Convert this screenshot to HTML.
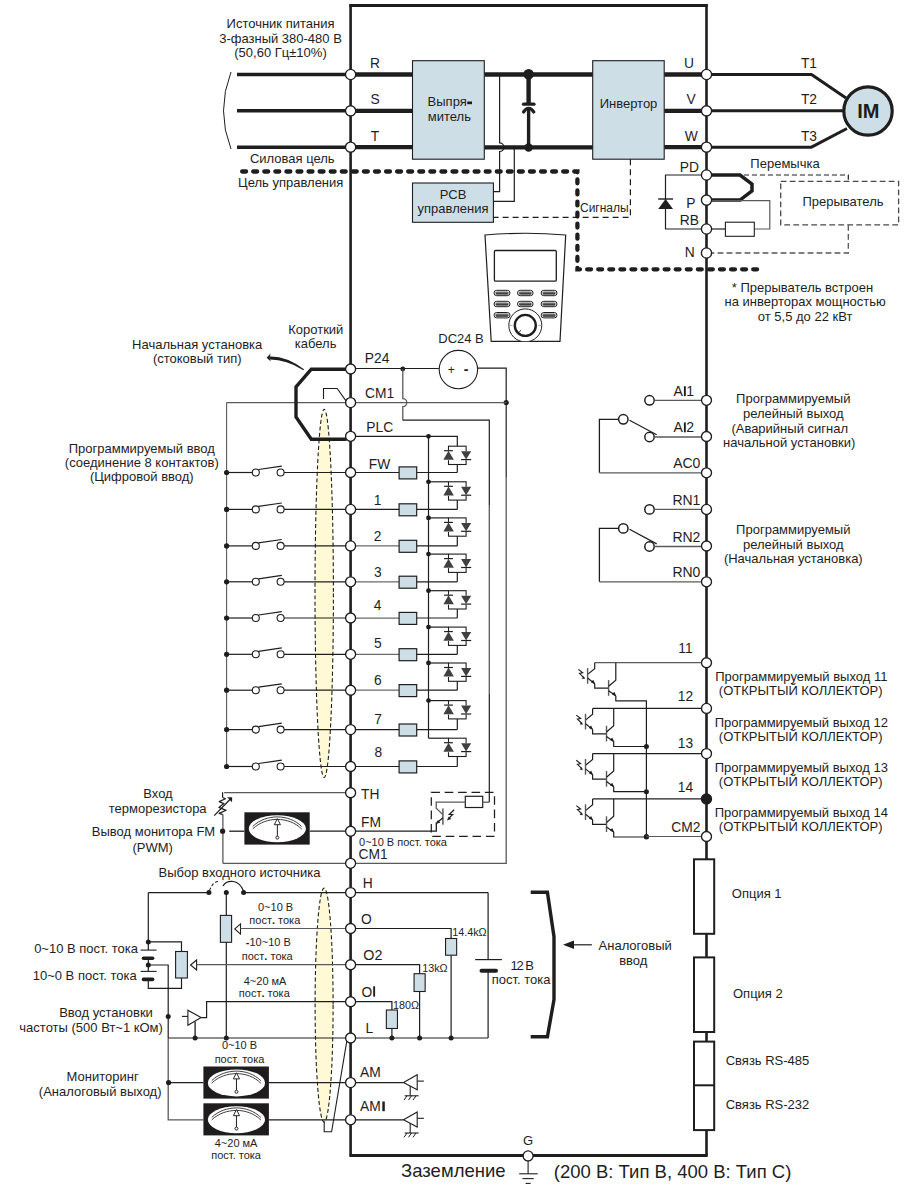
<!DOCTYPE html><html><head><meta charset="utf-8"><style>html,body{margin:0;padding:0;background:#fff;}svg{display:block;} text{font-family:"Liberation Sans",sans-serif;fill:#1e1e1e;}</style></head><body><svg width="918" height="1194" viewBox="0 0 918 1194"><rect width="918" height="1194" fill="#fff"/><ellipse cx="324.2" cy="593.4" rx="9.2" ry="184.2" fill="#fffad5" stroke="#1e1e1e" stroke-width="1.1" stroke-dasharray="4,2.5"/>
<ellipse cx="324.1" cy="1005.1" rx="9" ry="117" fill="#fffad5" stroke="#1e1e1e" stroke-width="1.1" stroke-dasharray="4,2.5"/>
<polyline points="350.6,1155.5 350.6,5.45 706.5,5.45 706.5,1155.5" fill="none" stroke="#1e1e1e" stroke-width="2.6" />
<line x1="349.35" y1="5.45" x2="707.75" y2="5.45" stroke="#1e1e1e" stroke-width="2.9" />
<line x1="349.40000000000003" y1="1155.5" x2="707.7" y2="1155.5" stroke="#1e1e1e" stroke-width="2.8" />
<line x1="237" y1="74.5" x2="350.6" y2="74.5" stroke="#1e1e1e" stroke-width="3.4" />
<line x1="350.6" y1="74.5" x2="412.5" y2="74.5" stroke="#1e1e1e" stroke-width="4.3" />
<line x1="237" y1="110.8" x2="350.6" y2="110.8" stroke="#1e1e1e" stroke-width="3.4" />
<line x1="350.6" y1="110.8" x2="412.5" y2="110.8" stroke="#1e1e1e" stroke-width="4.3" />
<line x1="237" y1="147.2" x2="350.6" y2="147.2" stroke="#1e1e1e" stroke-width="3.4" />
<line x1="350.6" y1="147.2" x2="412.5" y2="147.2" stroke="#1e1e1e" stroke-width="4.3" />
<line x1="484.4" y1="74.5" x2="592.7" y2="74.5" stroke="#1e1e1e" stroke-width="4.4" />
<line x1="484.4" y1="147.4" x2="592.7" y2="147.4" stroke="#1e1e1e" stroke-width="4.4" />
<line x1="664.2" y1="74.5" x2="706.5" y2="74.5" stroke="#1e1e1e" stroke-width="4.3" />
<line x1="706.5" y1="74.5" x2="812" y2="74.5" stroke="#1e1e1e" stroke-width="3" />
<line x1="664.2" y1="110.8" x2="706.5" y2="110.8" stroke="#1e1e1e" stroke-width="4.3" />
<line x1="706.5" y1="110.8" x2="812" y2="110.8" stroke="#1e1e1e" stroke-width="3" />
<line x1="664.2" y1="147.2" x2="706.5" y2="147.2" stroke="#1e1e1e" stroke-width="4.3" />
<line x1="706.5" y1="147.2" x2="812" y2="147.2" stroke="#1e1e1e" stroke-width="3" />
<line x1="811.5" y1="74.5" x2="846" y2="98" stroke="#1e1e1e" stroke-width="3" />
<line x1="811.5" y1="147.2" x2="847" y2="128.5" stroke="#1e1e1e" stroke-width="3" />
<line x1="812" y1="110.8" x2="845" y2="110.8" stroke="#1e1e1e" stroke-width="3" />
<circle cx="868" cy="111" r="24.2" fill="#cedee6" stroke="#1e1e1e" stroke-width="3.2"/>
<text x="868.4" y="118" font-size="20" text-anchor="middle" font-weight="bold">IM</text>
<rect x="412.5" y="60.7" width="71.8" height="98.5" fill="#cedee6" stroke="#1e1e1e" stroke-width="1.1" />
<rect x="592.7" y="60.7" width="71.5" height="98.5" fill="#cedee6" stroke="#1e1e1e" stroke-width="1.1" />
<text x="427.6" y="105.8" font-size="13" text-anchor="start" >Выпря</text>
<rect x="467.2" y="101.5" width="4.8" height="2.7" fill="#1e1e1e"/>
<text x="427.8" y="120.6" font-size="13" text-anchor="start" >митель</text>
<text x="628.5" y="107.5" font-size="13" text-anchor="middle" >Инвертор</text>
<circle cx="528.6" cy="74.2" r="5.3" fill="#1e1e1e"/>
<circle cx="528.6" cy="147.5" r="4.2" fill="#1e1e1e"/>
<line x1="528.6" y1="74" x2="528.6" y2="103.5" stroke="#1e1e1e" stroke-width="4.4" />
<line x1="528.6" y1="108.5" x2="528.6" y2="147.5" stroke="#1e1e1e" stroke-width="3.4" />
<path d="M523.5,104.2 L534,104.2" fill="none" stroke="#1e1e1e" stroke-width="3.2" stroke-linecap="round"/>
<path d="M523.5,112 Q528.6,104.5 533.8,112" fill="none" stroke="#1e1e1e" stroke-width="3.2" stroke-linecap="round"/>
<path d="M499.6,74.5 L499.6,142.9 A4.3,4.3 0 0 1 499.6,151.5 L499.6,191.6 L493.4,191.6" fill="none" stroke="#1e1e1e" stroke-width="1.2" />
<polyline points="514.3,147.4 514.3,201.4 493.4,201.4" fill="none" stroke="#1e1e1e" stroke-width="1.2" />
<rect x="412.5" y="183" width="80.9" height="39.3" fill="#cedee6" stroke="#1e1e1e" stroke-width="1.1" />
<text x="453" y="199" font-size="13" text-anchor="middle" >PCB</text>
<text x="453" y="213" font-size="13" text-anchor="middle" >управления</text>
<polyline points="630.4,159.2 630.4,217.4 493.4,217.4" fill="none" stroke="#1e1e1e" stroke-width="1.2" stroke-dasharray="6,4"/>
<text x="580" y="212" font-size="12" text-anchor="start" >Сигналы</text>
<polyline points="242.15,171.5 577.4,171.5 577.4,269.3 758.5,269.3" fill="none" stroke="#1e1e1e" stroke-width="4.3" stroke-dasharray="3.9,7.17" stroke-linecap="round"/>
<text x="375" y="68" font-size="13.8" text-anchor="middle" >R</text>
<text x="375" y="104" font-size="13.8" text-anchor="middle" >S</text>
<text x="375" y="140.5" font-size="13.8" text-anchor="middle" >T</text>
<text x="689" y="68" font-size="13.8" text-anchor="middle" >U</text>
<text x="691" y="104" font-size="13.8" text-anchor="middle" >V</text>
<text x="691.3" y="140.5" font-size="13.8" text-anchor="middle" >W</text>
<text x="809" y="68" font-size="13.8" text-anchor="middle" >T1</text>
<text x="809" y="104" font-size="13.8" text-anchor="middle" >T2</text>
<text x="809" y="140.5" font-size="13.8" text-anchor="middle" >T3</text>
<path d="M231,72 Q216,111 231,149" fill="none" stroke="#1e1e1e" stroke-width="1" />
<text x="280.5" y="28" font-size="13" text-anchor="middle" >Источник питания</text>
<text x="280.5" y="42.5" font-size="13" text-anchor="middle" >3-фазный 380-480 В</text>
<text x="280.5" y="57" font-size="13" text-anchor="middle" >(50,60 Гц±10%)</text>
<text x="292.3" y="163.4" font-size="13" text-anchor="middle" >Силовая цель</text>
<text x="290.7" y="186.6" font-size="13" text-anchor="middle" >Цель управления</text>
<polyline points="706.5,175 665.5,175 665.5,229 706.5,229" fill="none" stroke="#1e1e1e" stroke-width="1.2" />
<path d="M658.2,209 L673,209 L665.6,199 Z" fill="#1e1e1e"/>
<line x1="658.2" y1="199" x2="673" y2="199" stroke="#1e1e1e" stroke-width="1.4" />
<polyline points="706.5,175 740,175 752,184 752,190.8 740,200.1 706.5,200.1" fill="none" stroke="#1e1e1e" stroke-width="3.5" />
<polyline points="706.5,200.6 769.8,200.6 769.8,229 754.3,229" fill="none" stroke="#5a5a5a" stroke-width="1.2" />
<rect x="725.4" y="222.2" width="28.9" height="14.1" fill="#fff" stroke="#1e1e1e" stroke-width="1.1" />
<line x1="706.5" y1="229" x2="725.4" y2="229" stroke="#1e1e1e" stroke-width="1.2" />
<polyline points="744,175 848.3,175 848.3,181.3" fill="none" stroke="#1e1e1e" stroke-width="1.2" stroke-dasharray="5,3"/>
<rect x="780.7" y="181.3" width="117.9" height="43.6" fill="none" stroke="#4a4a4a" stroke-width="1.3" stroke-dasharray="5.8,3.2"/>
<polyline points="848.3,224.9 848.3,253 711.5,253" fill="none" stroke="#555" stroke-width="1.3" stroke-dasharray="5.8,3.2"/>
<text x="843" y="206.4" font-size="13" text-anchor="middle" >Прерыватель</text>
<text x="785" y="167.7" font-size="13" text-anchor="middle" >Перемычка</text>
<text x="699" y="172" font-size="13.8" text-anchor="end" >PD</text>
<text x="695.5" y="208" font-size="13.8" text-anchor="end" >P</text>
<text x="699" y="225" font-size="13.8" text-anchor="end" >RB</text>
<text x="694.6" y="257" font-size="13.8" text-anchor="end" >N</text>
<text x="802.5" y="291.8" font-size="13" text-anchor="middle" >* Прерыватель встроен</text>
<text x="805.2" y="306" font-size="13" text-anchor="middle" >на инверторах мощностью</text>
<text x="805.1" y="320.5" font-size="13" text-anchor="middle" >от 5,5 до 22 кВт</text>
<path d="M485,235 Q525.3,231.5 565.7,235 L560,341.3 L491.2,341.3 Z" fill="#fff" stroke="#1e1e1e" stroke-width="1.2" />
<rect x="494.4" y="250.5" width="61.9" height="30.7" fill="#fff" stroke="#1e1e1e" stroke-width="1.3" rx="1.2"/>
<rect x="494" y="290.3" width="16" height="5.4" fill="#fff" stroke="#1e1e1e" stroke-width="1" rx="2.7"/>
<rect x="495.3" y="291.4" width="13.4" height="3.1" fill="#6b6b6b" stroke="#1e1e1e" stroke-width="0" rx="1.5"/>
<line x1="496" y1="293.9" x2="508" y2="293.9" stroke="#1e1e1e" stroke-width="0.9" />
<rect x="517.5" y="290.3" width="15.600000000000023" height="5.4" fill="#fff" stroke="#1e1e1e" stroke-width="1" rx="2.7"/>
<rect x="518.8" y="291.4" width="13.000000000000023" height="3.1" fill="#6b6b6b" stroke="#1e1e1e" stroke-width="0" rx="1.5"/>
<line x1="519.5" y1="293.9" x2="531.1" y2="293.9" stroke="#1e1e1e" stroke-width="0.9" />
<rect x="541.1" y="290.3" width="15.899999999999977" height="5.4" fill="#fff" stroke="#1e1e1e" stroke-width="1" rx="2.7"/>
<rect x="542.4" y="291.4" width="13.299999999999978" height="3.1" fill="#6b6b6b" stroke="#1e1e1e" stroke-width="0" rx="1.5"/>
<line x1="543.1" y1="293.9" x2="555" y2="293.9" stroke="#1e1e1e" stroke-width="0.9" />
<rect x="494" y="301.3" width="16" height="5.4" fill="#fff" stroke="#1e1e1e" stroke-width="1" rx="2.7"/>
<rect x="495.3" y="302.4" width="13.4" height="3.1" fill="#6b6b6b" stroke="#1e1e1e" stroke-width="0" rx="1.5"/>
<line x1="496" y1="304.9" x2="508" y2="304.9" stroke="#1e1e1e" stroke-width="0.9" />
<rect x="517.5" y="301.3" width="15.600000000000023" height="5.4" fill="#fff" stroke="#1e1e1e" stroke-width="1" rx="2.7"/>
<rect x="518.8" y="302.4" width="13.000000000000023" height="3.1" fill="#6b6b6b" stroke="#1e1e1e" stroke-width="0" rx="1.5"/>
<line x1="519.5" y1="304.9" x2="531.1" y2="304.9" stroke="#1e1e1e" stroke-width="0.9" />
<rect x="541.1" y="301.3" width="15.899999999999977" height="5.4" fill="#fff" stroke="#1e1e1e" stroke-width="1" rx="2.7"/>
<rect x="542.4" y="302.4" width="13.299999999999978" height="3.1" fill="#6b6b6b" stroke="#1e1e1e" stroke-width="0" rx="1.5"/>
<line x1="543.1" y1="304.9" x2="555" y2="304.9" stroke="#1e1e1e" stroke-width="0.9" />
<rect x="494" y="312.5" width="16" height="5.4" fill="#fff" stroke="#1e1e1e" stroke-width="1" rx="2.7"/>
<rect x="495.3" y="313.59999999999997" width="13.4" height="3.1" fill="#6b6b6b" stroke="#1e1e1e" stroke-width="0" rx="1.5"/>
<line x1="496" y1="316.09999999999997" x2="508" y2="316.09999999999997" stroke="#1e1e1e" stroke-width="0.9" />
<rect x="541.1" y="312.5" width="15.899999999999977" height="5.4" fill="#fff" stroke="#1e1e1e" stroke-width="1" rx="2.7"/>
<rect x="542.4" y="313.59999999999997" width="13.299999999999978" height="3.1" fill="#6b6b6b" stroke="#1e1e1e" stroke-width="0" rx="1.5"/>
<line x1="543.1" y1="316.09999999999997" x2="555" y2="316.09999999999997" stroke="#1e1e1e" stroke-width="0.9" />
<clipPath id="kp"><rect x="480" y="230" width="90" height="111.3"/></clipPath>
<g clip-path="url(#kp)"><circle cx="525.3" cy="325.4" r="16.5" fill="#fff" stroke="#1e1e1e" stroke-width="1"/><circle cx="525.3" cy="325.4" r="10.5" fill="none" stroke="#1e1e1e" stroke-width="2.4"/></g>
<line x1="508.8" y1="325.4" x2="512.6" y2="325.4" stroke="#999" stroke-width="0.8" />
<line x1="538" y1="325.4" x2="541.8" y2="325.4" stroke="#999" stroke-width="0.8" />
<line x1="519.2" y1="332" x2="521" y2="330.3" stroke="#1e1e1e" stroke-width="1" />
<text x="438.3" y="343.4" font-size="13" text-anchor="start" textLength="45.4" lengthAdjust="spacing">DC24 В</text>
<line x1="350.6" y1="368.5" x2="438.8" y2="368.5" stroke="#1e1e1e" stroke-width="1.2" />
<circle cx="402.8" cy="369" r="2.4" fill="#1e1e1e"/>
<circle cx="458.4" cy="369.6" r="19.2" fill="#fff" stroke="#1e1e1e" stroke-width="1.1"/>
<text x="451.3" y="373.5" font-size="12" text-anchor="middle" >+</text>
<text x="466" y="374" font-size="14" text-anchor="middle" font-weight="bold">-</text>
<polyline points="477.6,368.2 506.2,368.2 506.2,477" fill="none" stroke="#1e1e1e" stroke-width="1.2" />
<polyline points="506.2,477 506.2,863.3 350.6,863.3" fill="none" stroke="#5a5a5a" stroke-width="1.3" />
<circle cx="506.2" cy="402.6" r="2.6" fill="#1e1e1e"/>
<path d="M402.8,369 L402.8,398.6 A4,4 0 0 1 402.8,406.6 L402.8,420.2" fill="none" stroke="#5a5a5a" stroke-width="1.3" />
<polyline points="402.8,420.2 489.3,420.2 489.3,505" fill="none" stroke="#1e1e1e" stroke-width="1.2" />
<line x1="489.3" y1="505" x2="489.3" y2="694" stroke="#5a5a5a" stroke-width="1.3" />
<line x1="489.3" y1="694" x2="489.3" y2="802.2" stroke="#1e1e1e" stroke-width="1.2" />
<line x1="226.6" y1="402.6" x2="506.2" y2="402.6" stroke="#5a5a5a" stroke-width="1.2" />
<polyline points="323.5,398.9 323.5,388.5 337.2,388.5 346,400.9" fill="none" stroke="#1e1e1e" stroke-width="1.1" />
<polyline points="350.6,436.3 457.3,436.3 457.3,446.2" fill="none" stroke="#1e1e1e" stroke-width="1.2" />
<circle cx="428.5" cy="436.3" r="2.4" fill="#1e1e1e"/>
<line x1="428.5" y1="436.3" x2="428.5" y2="738.2" stroke="#1e1e1e" stroke-width="1.2" />
<polyline points="346.6,369.2 311.3,369.2 296,387 296,417 311.3,439.2 346.6,439.2" fill="none" stroke="#1e1e1e" stroke-width="3.4" stroke-linejoin="miter"/>
<path d="M304,369.2 Q286,355.8 269.5,356.5 L269.5,359.6 Q286,359.4 303.4,370.2 Z" fill="#1e1e1e"/>
<path d="M266.6,357.8 L270.6,353.6 L269.6,357.9 L270.9,361.6 Z" fill="#1e1e1e"/>
<text x="197.2" y="349" font-size="13" text-anchor="middle" >Начальная установка</text>
<text x="197.2" y="363.4" font-size="13" text-anchor="middle" >(стоковый тип)</text>
<text x="315.8" y="334.1" font-size="13" text-anchor="middle" >Короткий</text>
<text x="315.6" y="347.7" font-size="13" text-anchor="middle" >кабель</text>
<text x="364.8" y="363.2" font-size="13.8" text-anchor="start" >P24</text>
<text x="365" y="397.6" font-size="13.8" text-anchor="start" >CM1</text>
<text x="366.3" y="431.6" font-size="13.8" text-anchor="start" >PLC</text>
<line x1="226.6" y1="402.6" x2="226.6" y2="766.5" stroke="#5a5a5a" stroke-width="1.1" />
<circle cx="226.6" cy="472.5" r="2.6" fill="#1e1e1e"/>
<line x1="226.6" y1="472.5" x2="252.3" y2="472.5" stroke="#1e1e1e" stroke-width="1.2" />
<circle cx="255.8" cy="472.5" r="3.5" fill="#fff" stroke="#1e1e1e" stroke-width="1.1"/>
<line x1="258.5" y1="469.5" x2="281.8" y2="466.1" stroke="#1e1e1e" stroke-width="1.2" />
<circle cx="280.6" cy="472.5" r="3.5" fill="#fff" stroke="#1e1e1e" stroke-width="1.1"/>
<line x1="284.1" y1="472.5" x2="350.6" y2="472.5" stroke="#1e1e1e" stroke-width="1.2" />
<line x1="350.6" y1="472.5" x2="457.3" y2="472.5" stroke="#1e1e1e" stroke-width="1.2" />
<rect x="399.1" y="466.9" width="17.6" height="12" fill="#cedee6" stroke="#1e1e1e" stroke-width="1.2" />
<polyline points="457.3,472.5 457.3,464.5" fill="none" stroke="#1e1e1e" stroke-width="1.2" />
<rect x="448.5" y="446.2" width="17.6" height="18.30000000000001" fill="none" stroke="#1e1e1e" stroke-width="1.1"/>
<rect x="443" y="450.2" width="11" height="10" fill="#fff" stroke="none"/>
<path d="M443.4,459.8 L453.9,459.8 L448.5,450.8 Z" fill="#404040"/>
<line x1="444.1" y1="450.7" x2="452.9" y2="450.7" stroke="#1e1e1e" stroke-width="1.2" />
<rect x="460.5" y="451.2" width="11" height="9" fill="#fff" stroke="none"/>
<path d="M461.1,451.2 L471.2,451.2 L466.1,459.59999999999997 Z" fill="#404040"/>
<line x1="461.1" y1="459.59999999999997" x2="471.2" y2="459.59999999999997" stroke="#1e1e1e" stroke-width="1.2" />
<text x="379.5" y="468.7" font-size="13.8" text-anchor="middle" >FW</text>
<circle cx="226.6" cy="509.4" r="2.6" fill="#1e1e1e"/>
<line x1="226.6" y1="509.4" x2="252.3" y2="509.4" stroke="#1e1e1e" stroke-width="1.2" />
<circle cx="255.8" cy="509.4" r="3.5" fill="#fff" stroke="#1e1e1e" stroke-width="1.1"/>
<line x1="258.5" y1="506.4" x2="281.8" y2="503.0" stroke="#1e1e1e" stroke-width="1.2" />
<circle cx="280.6" cy="509.4" r="3.5" fill="#fff" stroke="#1e1e1e" stroke-width="1.1"/>
<line x1="284.1" y1="509.4" x2="350.6" y2="509.4" stroke="#1e1e1e" stroke-width="1.2" />
<line x1="350.6" y1="509.4" x2="457.3" y2="509.4" stroke="#1e1e1e" stroke-width="1.2" />
<rect x="399.1" y="503.79999999999995" width="17.6" height="12" fill="#cedee6" stroke="#1e1e1e" stroke-width="1.2" />
<polyline points="457.3,509.4 457.3,500.1" fill="none" stroke="#1e1e1e" stroke-width="1.2" />
<rect x="448.5" y="481.8" width="17.6" height="18.30000000000001" fill="none" stroke="#1e1e1e" stroke-width="1.1"/>
<rect x="443" y="485.8" width="11" height="10" fill="#fff" stroke="none"/>
<path d="M443.4,495.40000000000003 L453.9,495.40000000000003 L448.5,486.40000000000003 Z" fill="#404040"/>
<line x1="444.1" y1="486.3" x2="452.9" y2="486.3" stroke="#1e1e1e" stroke-width="1.2" />
<rect x="460.5" y="486.8" width="11" height="9" fill="#fff" stroke="none"/>
<path d="M461.1,486.8 L471.2,486.8 L466.1,495.2 Z" fill="#404040"/>
<line x1="461.1" y1="495.2" x2="471.2" y2="495.2" stroke="#1e1e1e" stroke-width="1.2" />
<line x1="428.5" y1="481.8" x2="448.5" y2="481.8" stroke="#1e1e1e" stroke-width="1.2" />
<circle cx="428.5" cy="481.8" r="2.4" fill="#1e1e1e"/>
<text x="377.5" y="504.5" font-size="13.8" text-anchor="middle" >1</text>
<circle cx="226.6" cy="545.9" r="2.6" fill="#1e1e1e"/>
<line x1="226.6" y1="545.9" x2="252.3" y2="545.9" stroke="#1e1e1e" stroke-width="1.2" />
<circle cx="255.8" cy="545.9" r="3.5" fill="#fff" stroke="#1e1e1e" stroke-width="1.1"/>
<line x1="258.5" y1="542.9" x2="281.8" y2="539.5" stroke="#1e1e1e" stroke-width="1.2" />
<circle cx="280.6" cy="545.9" r="3.5" fill="#fff" stroke="#1e1e1e" stroke-width="1.1"/>
<line x1="284.1" y1="545.9" x2="350.6" y2="545.9" stroke="#1e1e1e" stroke-width="1.2" />
<line x1="350.6" y1="545.9" x2="399.1" y2="545.9" stroke="#6a6a6a" stroke-width="1.25" />
<line x1="416.7" y1="545.9" x2="457.3" y2="545.9" stroke="#1e1e1e" stroke-width="1.2" />
<rect x="399.1" y="540.3" width="17.6" height="12" fill="#cedee6" stroke="#1e1e1e" stroke-width="1.2" />
<polyline points="457.3,545.9 457.3,536.1999999999999" fill="none" stroke="#1e1e1e" stroke-width="1.2" />
<rect x="448.5" y="517.9" width="17.6" height="18.299999999999955" fill="none" stroke="#1e1e1e" stroke-width="1.1"/>
<rect x="443" y="521.9" width="11" height="10" fill="#fff" stroke="none"/>
<path d="M443.4,531.5 L453.9,531.5 L448.5,522.5 Z" fill="#404040"/>
<line x1="444.1" y1="522.4" x2="452.9" y2="522.4" stroke="#1e1e1e" stroke-width="1.2" />
<rect x="460.5" y="522.9" width="11" height="9" fill="#fff" stroke="none"/>
<path d="M461.1,522.9 L471.2,522.9 L466.1,531.3 Z" fill="#404040"/>
<line x1="461.1" y1="531.3" x2="471.2" y2="531.3" stroke="#1e1e1e" stroke-width="1.2" />
<line x1="428.5" y1="517.9" x2="448.5" y2="517.9" stroke="#1e1e1e" stroke-width="1.2" />
<circle cx="428.5" cy="517.9" r="2.4" fill="#1e1e1e"/>
<text x="377.5" y="540.8" font-size="13.8" text-anchor="middle" >2</text>
<circle cx="226.6" cy="581.8" r="2.6" fill="#1e1e1e"/>
<line x1="226.6" y1="581.8" x2="252.3" y2="581.8" stroke="#1e1e1e" stroke-width="1.2" />
<circle cx="255.8" cy="581.8" r="3.5" fill="#fff" stroke="#1e1e1e" stroke-width="1.1"/>
<line x1="258.5" y1="578.8" x2="281.8" y2="575.4" stroke="#1e1e1e" stroke-width="1.2" />
<circle cx="280.6" cy="581.8" r="3.5" fill="#fff" stroke="#1e1e1e" stroke-width="1.1"/>
<line x1="284.1" y1="581.8" x2="350.6" y2="581.8" stroke="#1e1e1e" stroke-width="1.2" />
<line x1="350.6" y1="581.8" x2="399.1" y2="581.8" stroke="#6a6a6a" stroke-width="1.25" />
<line x1="416.7" y1="581.8" x2="457.3" y2="581.8" stroke="#1e1e1e" stroke-width="1.2" />
<rect x="399.1" y="576.1999999999999" width="17.6" height="12" fill="#cedee6" stroke="#1e1e1e" stroke-width="1.2" />
<polyline points="457.3,581.8 457.3,572.4" fill="none" stroke="#1e1e1e" stroke-width="1.2" />
<rect x="448.5" y="554.1" width="17.6" height="18.299999999999955" fill="none" stroke="#1e1e1e" stroke-width="1.1"/>
<rect x="443" y="558.1" width="11" height="10" fill="#fff" stroke="none"/>
<path d="M443.4,567.7 L453.9,567.7 L448.5,558.7 Z" fill="#404040"/>
<line x1="444.1" y1="558.6" x2="452.9" y2="558.6" stroke="#1e1e1e" stroke-width="1.2" />
<rect x="460.5" y="559.1" width="11" height="9" fill="#fff" stroke="none"/>
<path d="M461.1,559.1 L471.2,559.1 L466.1,567.5 Z" fill="#404040"/>
<line x1="461.1" y1="567.5" x2="471.2" y2="567.5" stroke="#1e1e1e" stroke-width="1.2" />
<line x1="428.5" y1="554.1" x2="448.5" y2="554.1" stroke="#1e1e1e" stroke-width="1.2" />
<circle cx="428.5" cy="554.1" r="2.4" fill="#1e1e1e"/>
<text x="377.8" y="576.5" font-size="13.8" text-anchor="middle" >3</text>
<circle cx="226.6" cy="618" r="2.6" fill="#1e1e1e"/>
<line x1="226.6" y1="618" x2="252.3" y2="618" stroke="#1e1e1e" stroke-width="1.2" />
<circle cx="255.8" cy="618" r="3.5" fill="#fff" stroke="#1e1e1e" stroke-width="1.1"/>
<line x1="258.5" y1="615" x2="281.8" y2="611.6" stroke="#1e1e1e" stroke-width="1.2" />
<circle cx="280.6" cy="618" r="3.5" fill="#fff" stroke="#1e1e1e" stroke-width="1.1"/>
<line x1="284.1" y1="618" x2="350.6" y2="618" stroke="#1e1e1e" stroke-width="1.2" />
<line x1="350.6" y1="618" x2="399.1" y2="618" stroke="#6a6a6a" stroke-width="1.25" />
<line x1="416.7" y1="618" x2="457.3" y2="618" stroke="#1e1e1e" stroke-width="1.2" />
<rect x="399.1" y="612.4" width="17.6" height="12" fill="#cedee6" stroke="#1e1e1e" stroke-width="1.2" />
<polyline points="457.3,618 457.3,609.0" fill="none" stroke="#1e1e1e" stroke-width="1.2" />
<rect x="448.5" y="590.7" width="17.6" height="18.299999999999955" fill="none" stroke="#1e1e1e" stroke-width="1.1"/>
<rect x="443" y="594.7" width="11" height="10" fill="#fff" stroke="none"/>
<path d="M443.4,604.3000000000001 L453.9,604.3000000000001 L448.5,595.3000000000001 Z" fill="#404040"/>
<line x1="444.1" y1="595.2" x2="452.9" y2="595.2" stroke="#1e1e1e" stroke-width="1.2" />
<rect x="460.5" y="595.7" width="11" height="9" fill="#fff" stroke="none"/>
<path d="M461.1,595.7 L471.2,595.7 L466.1,604.1 Z" fill="#404040"/>
<line x1="461.1" y1="604.1" x2="471.2" y2="604.1" stroke="#1e1e1e" stroke-width="1.2" />
<line x1="428.5" y1="590.7" x2="448.5" y2="590.7" stroke="#1e1e1e" stroke-width="1.2" />
<circle cx="428.5" cy="590.7" r="2.4" fill="#1e1e1e"/>
<text x="377.5" y="610.2" font-size="13.8" text-anchor="middle" >4</text>
<circle cx="226.6" cy="654.3" r="2.6" fill="#1e1e1e"/>
<line x1="226.6" y1="654.3" x2="252.3" y2="654.3" stroke="#1e1e1e" stroke-width="1.2" />
<circle cx="255.8" cy="654.3" r="3.5" fill="#fff" stroke="#1e1e1e" stroke-width="1.1"/>
<line x1="258.5" y1="651.3" x2="281.8" y2="647.9" stroke="#1e1e1e" stroke-width="1.2" />
<circle cx="280.6" cy="654.3" r="3.5" fill="#fff" stroke="#1e1e1e" stroke-width="1.1"/>
<line x1="284.1" y1="654.3" x2="350.6" y2="654.3" stroke="#1e1e1e" stroke-width="1.2" />
<line x1="350.6" y1="654.3" x2="399.1" y2="654.3" stroke="#6a6a6a" stroke-width="1.25" />
<line x1="416.7" y1="654.3" x2="457.3" y2="654.3" stroke="#1e1e1e" stroke-width="1.2" />
<rect x="399.1" y="648.6999999999999" width="17.6" height="12" fill="#cedee6" stroke="#1e1e1e" stroke-width="1.2" />
<polyline points="457.3,654.3 457.3,645.4" fill="none" stroke="#1e1e1e" stroke-width="1.2" />
<rect x="448.5" y="627.1" width="17.6" height="18.299999999999955" fill="none" stroke="#1e1e1e" stroke-width="1.1"/>
<rect x="443" y="631.1" width="11" height="10" fill="#fff" stroke="none"/>
<path d="M443.4,640.7 L453.9,640.7 L448.5,631.7 Z" fill="#404040"/>
<line x1="444.1" y1="631.6" x2="452.9" y2="631.6" stroke="#1e1e1e" stroke-width="1.2" />
<rect x="460.5" y="632.1" width="11" height="9" fill="#fff" stroke="none"/>
<path d="M461.1,632.1 L471.2,632.1 L466.1,640.5 Z" fill="#404040"/>
<line x1="461.1" y1="640.5" x2="471.2" y2="640.5" stroke="#1e1e1e" stroke-width="1.2" />
<line x1="428.5" y1="627.1" x2="448.5" y2="627.1" stroke="#1e1e1e" stroke-width="1.2" />
<circle cx="428.5" cy="627.1" r="2.4" fill="#1e1e1e"/>
<text x="377.8" y="648.4" font-size="13.8" text-anchor="middle" >5</text>
<circle cx="226.6" cy="690.2" r="2.6" fill="#1e1e1e"/>
<line x1="226.6" y1="690.2" x2="252.3" y2="690.2" stroke="#1e1e1e" stroke-width="1.2" />
<circle cx="255.8" cy="690.2" r="3.5" fill="#fff" stroke="#1e1e1e" stroke-width="1.1"/>
<line x1="258.5" y1="687.2" x2="281.8" y2="683.8000000000001" stroke="#1e1e1e" stroke-width="1.2" />
<circle cx="280.6" cy="690.2" r="3.5" fill="#fff" stroke="#1e1e1e" stroke-width="1.1"/>
<line x1="284.1" y1="690.2" x2="350.6" y2="690.2" stroke="#1e1e1e" stroke-width="1.2" />
<line x1="350.6" y1="690.2" x2="399.1" y2="690.2" stroke="#6a6a6a" stroke-width="1.25" />
<line x1="416.7" y1="690.2" x2="457.3" y2="690.2" stroke="#1e1e1e" stroke-width="1.2" />
<rect x="399.1" y="684.6" width="17.6" height="12" fill="#cedee6" stroke="#1e1e1e" stroke-width="1.2" />
<polyline points="457.3,690.2 457.3,681.3" fill="none" stroke="#1e1e1e" stroke-width="1.2" />
<rect x="448.5" y="663" width="17.6" height="18.299999999999955" fill="none" stroke="#1e1e1e" stroke-width="1.1"/>
<rect x="443" y="667" width="11" height="10" fill="#fff" stroke="none"/>
<path d="M443.4,676.6 L453.9,676.6 L448.5,667.6 Z" fill="#404040"/>
<line x1="444.1" y1="667.5" x2="452.9" y2="667.5" stroke="#1e1e1e" stroke-width="1.2" />
<rect x="460.5" y="668" width="11" height="9" fill="#fff" stroke="none"/>
<path d="M461.1,668 L471.2,668 L466.1,676.4 Z" fill="#404040"/>
<line x1="461.1" y1="676.4" x2="471.2" y2="676.4" stroke="#1e1e1e" stroke-width="1.2" />
<line x1="428.5" y1="663" x2="448.5" y2="663" stroke="#1e1e1e" stroke-width="1.2" />
<circle cx="428.5" cy="663" r="2.4" fill="#1e1e1e"/>
<text x="377.8" y="684.9" font-size="13.8" text-anchor="middle" >6</text>
<circle cx="226.6" cy="729.6" r="2.6" fill="#1e1e1e"/>
<line x1="226.6" y1="729.6" x2="252.3" y2="729.6" stroke="#1e1e1e" stroke-width="1.2" />
<circle cx="255.8" cy="729.6" r="3.5" fill="#fff" stroke="#1e1e1e" stroke-width="1.1"/>
<line x1="258.5" y1="726.6" x2="281.8" y2="723.2" stroke="#1e1e1e" stroke-width="1.2" />
<circle cx="280.6" cy="729.6" r="3.5" fill="#fff" stroke="#1e1e1e" stroke-width="1.1"/>
<line x1="284.1" y1="729.6" x2="350.6" y2="729.6" stroke="#1e1e1e" stroke-width="1.2" />
<line x1="350.6" y1="729.6" x2="457.3" y2="729.6" stroke="#1e1e1e" stroke-width="1.2" />
<rect x="399.1" y="724.0" width="17.6" height="12" fill="#cedee6" stroke="#1e1e1e" stroke-width="1.2" />
<polyline points="457.3,729.6 457.3,718.9" fill="none" stroke="#1e1e1e" stroke-width="1.2" />
<rect x="448.5" y="700.6" width="17.6" height="18.299999999999955" fill="none" stroke="#1e1e1e" stroke-width="1.1"/>
<rect x="443" y="704.6" width="11" height="10" fill="#fff" stroke="none"/>
<path d="M443.4,714.2 L453.9,714.2 L448.5,705.2 Z" fill="#404040"/>
<line x1="444.1" y1="705.1" x2="452.9" y2="705.1" stroke="#1e1e1e" stroke-width="1.2" />
<rect x="460.5" y="705.6" width="11" height="9" fill="#fff" stroke="none"/>
<path d="M461.1,705.6 L471.2,705.6 L466.1,714.0 Z" fill="#404040"/>
<line x1="461.1" y1="714.0" x2="471.2" y2="714.0" stroke="#1e1e1e" stroke-width="1.2" />
<line x1="428.5" y1="700.6" x2="448.5" y2="700.6" stroke="#1e1e1e" stroke-width="1.2" />
<circle cx="428.5" cy="700.6" r="2.4" fill="#1e1e1e"/>
<text x="378" y="723.5" font-size="13.8" text-anchor="middle" >7</text>
<circle cx="226.6" cy="766.5" r="2.6" fill="#1e1e1e"/>
<line x1="226.6" y1="766.5" x2="252.3" y2="766.5" stroke="#1e1e1e" stroke-width="1.2" />
<circle cx="255.8" cy="766.5" r="3.5" fill="#fff" stroke="#1e1e1e" stroke-width="1.1"/>
<line x1="258.5" y1="763.5" x2="281.8" y2="760.1" stroke="#1e1e1e" stroke-width="1.2" />
<circle cx="280.6" cy="766.5" r="3.5" fill="#fff" stroke="#1e1e1e" stroke-width="1.1"/>
<line x1="284.1" y1="766.5" x2="350.6" y2="766.5" stroke="#1e1e1e" stroke-width="1.2" />
<line x1="350.6" y1="766.5" x2="457.3" y2="766.5" stroke="#1e1e1e" stroke-width="1.2" />
<rect x="399.1" y="760.9" width="17.6" height="12" fill="#cedee6" stroke="#1e1e1e" stroke-width="1.2" />
<polyline points="457.3,766.5 457.3,756.5" fill="none" stroke="#1e1e1e" stroke-width="1.2" />
<rect x="448.5" y="738.2" width="17.6" height="18.299999999999955" fill="none" stroke="#1e1e1e" stroke-width="1.1"/>
<rect x="443" y="742.2" width="11" height="10" fill="#fff" stroke="none"/>
<path d="M443.4,751.8000000000001 L453.9,751.8000000000001 L448.5,742.8000000000001 Z" fill="#404040"/>
<line x1="444.1" y1="742.7" x2="452.9" y2="742.7" stroke="#1e1e1e" stroke-width="1.2" />
<rect x="460.5" y="743.2" width="11" height="9" fill="#fff" stroke="none"/>
<path d="M461.1,743.2 L471.2,743.2 L466.1,751.6 Z" fill="#404040"/>
<line x1="461.1" y1="751.6" x2="471.2" y2="751.6" stroke="#1e1e1e" stroke-width="1.2" />
<line x1="428.5" y1="738.2" x2="448.5" y2="738.2" stroke="#1e1e1e" stroke-width="1.2" />
<text x="378.3" y="757.2" font-size="13.8" text-anchor="middle" >8</text>
<text x="141.8" y="453.1" font-size="13" text-anchor="middle" >Программируемый ввод</text>
<text x="141.8" y="467.3" font-size="13" text-anchor="middle" >(соединение 8 контактов)</text>
<text x="141.8" y="481.2" font-size="13" text-anchor="middle" >(Цифровой ввод)</text>
<line x1="224.1" y1="792.7" x2="350.6" y2="792.7" stroke="#5a5a5a" stroke-width="1.3" />
<line x1="222.6" y1="792.2" x2="222.6" y2="797.5" stroke="#1e1e1e" stroke-width="1.2" />
<polyline points="222.6,797.5 225.4,798.7 219.2,801.6 223.9,803.6 218.9,807.4 226.1,810.3 219.2,813.4 222.9,814.6" fill="none" stroke="#1e1e1e" stroke-width="1.25" stroke-linejoin="round"/>
<line x1="222.9" y1="814.6" x2="222.9" y2="863.3" stroke="#5a5a5a" stroke-width="1.3" />
<line x1="214.2" y1="815.6" x2="230.2" y2="799.2" stroke="#1e1e1e" stroke-width="1.25" />
<path d="M227.2,797.2 L232.2,797.2 L232,802.3 Z" fill="#1e1e1e"/>
<circle cx="222.6" cy="831.2" r="2.6" fill="#1e1e1e"/>
<line x1="229.2" y1="831.2" x2="244.4" y2="831.2" stroke="#1e1e1e" stroke-width="1.3" />
<line x1="309.7" y1="831.2" x2="350.6" y2="831.2" stroke="#1e1e1e" stroke-width="1.3" />
<line x1="222.8" y1="863.3" x2="350.6" y2="863.3" stroke="#5a5a5a" stroke-width="1.2" />
<rect x="244.4" y="812.3" width="65.3" height="32.3" fill="#1f1c1d" stroke="#1e1e1e" stroke-width="0" />
<ellipse cx="277.35" cy="828.6999999999999" rx="28.6" ry="13.5" fill="#fff"/>
<path d="M252.70000000000002,826.5 C259.4,819.9 268.35,817.0 277.35,816.9 C286.35,817.0 295.0,819.9 301.7,826.5" fill="none" stroke="#1e1e1e" stroke-width="0.85"/>
<path d="M252.70000000000002,829.0 C259.4,822.4 268.35,819.5 277.35,819.4 C286.35,819.5 295.0,822.4 301.7,829.0" fill="none" stroke="#1e1e1e" stroke-width="0.85"/>
<line x1="277.35" y1="824.3" x2="277.35" y2="836.0999999999999" stroke="#1e1e1e" stroke-width="1" />
<path d="M277.35,818.5999999999999 L274.25,824.6999999999999 L280.45000000000005,824.6999999999999 Z" fill="#fff" stroke="#1e1e1e" stroke-width="0.95"/>
<circle cx="277.35" cy="837.5999999999999" r="1.5" fill="#fff" stroke="#1e1e1e" stroke-width="0.95"/>
<text x="158" y="797.6" font-size="13" text-anchor="middle" >Вход</text>
<text x="157.7" y="813" font-size="13" text-anchor="middle" >терморезистора</text>
<text x="153.5" y="835.8" font-size="13" text-anchor="middle" >Вывод монитора FM</text>
<text x="152.6" y="851.5" font-size="13" text-anchor="middle" >(PWM)</text>
<text x="361" y="798.6" font-size="13.8" text-anchor="start" >TH</text>
<text x="361" y="827" font-size="13.8" text-anchor="start" >FM</text>
<text x="358.6" y="858.8" font-size="13.8" text-anchor="start" >CM1</text>
<text x="403" y="845.7" font-size="11" text-anchor="middle" >0~10 В пост. тока</text>
<rect x="431.3" y="792.4" width="63.2" height="44" fill="none" stroke="#1e1e1e" stroke-width="1.25" stroke-dasharray="8.6,4.8"/>
<rect x="465.3" y="796.3" width="17.4" height="11.2" fill="#fff" stroke="#1e1e1e" stroke-width="1.2" />
<line x1="482.7" y1="802.2" x2="489.3" y2="802.2" stroke="#5a5a5a" stroke-width="1.3" />
<polyline points="465.3,802.2 436.2,802.2 436.2,808.1 442.9,814.6" fill="none" stroke="#5a5a5a" stroke-width="1.3" />
<line x1="442.9" y1="808.4" x2="442.9" y2="824.7" stroke="#5a5a5a" stroke-width="1.5" />
<line x1="442.9" y1="817.7" x2="437.6" y2="822.3" stroke="#1e1e1e" stroke-width="1.3" />
<path d="M435.6,824.2 L440.3,822.6 L437.9,819.9 Z" fill="#1e1e1e"/>
<polyline points="436.3,822.6 436.3,831.2 350.6,831.2" fill="none" stroke="#1e1e1e" stroke-width="1.3" />
<path d="M454.2,809.8 L449.3,814.5 L452.6,814.5 L448.6,818.6" fill="none" stroke="#1e1e1e" stroke-width="1.2" />
<path d="M446.8,820.6 L451.3,818.9 L448.9,816.4 Z" fill="#1e1e1e"/>
<text x="239.5" y="877" font-size="13" text-anchor="middle" >Выбор входного источника</text>
<text x="635.2" y="949.6" font-size="13" text-anchor="middle" >Аналоговый</text>
<text x="633.3" y="964.6" font-size="13" text-anchor="middle" >ввод</text>
<!--ANALOG-->
<!--RIGHT-->
<line x1="148.3" y1="892.6" x2="208.9" y2="892.6" stroke="#1e1e1e" stroke-width="1.2" />
<line x1="243.6" y1="892.6" x2="350.6" y2="892.6" stroke="#1e1e1e" stroke-width="1.2" />
<circle cx="208.9" cy="892.6" r="2.5" fill="#1e1e1e"/>
<circle cx="226.3" cy="892.6" r="2.5" fill="#1e1e1e"/>
<circle cx="243.6" cy="892.6" r="2.5" fill="#1e1e1e"/>
<path d="M209.5,890.5 Q213,881 219.5,881.5" fill="none" stroke="#1e1e1e" stroke-width="1.1" stroke-dasharray="3,2"/>
<path d="M223,886 Q226,880.5 233.5,881.5 Q240,882.5 243.6,891" fill="none" stroke="#1e1e1e" stroke-width="1.2" />
<line x1="148.3" y1="892.6" x2="148.3" y2="941.9" stroke="#1e1e1e" stroke-width="1.2" />
<line x1="226.3" y1="892.6" x2="226.3" y2="915.4" stroke="#1e1e1e" stroke-width="1.2" />
<rect x="220.4" y="915.4" width="11.2" height="26.9" fill="#cedee6" stroke="#1e1e1e" stroke-width="1.1" />
<line x1="226.3" y1="942.3" x2="226.3" y2="1038" stroke="#1e1e1e" stroke-width="1.2" />
<circle cx="226.3" cy="1038" r="2.5" fill="#1e1e1e"/>
<path d="M234.8,928.9 L240.5,923.9 L240.5,934.1 Z" fill="#fff" stroke="#1e1e1e" stroke-width="1.1"/>
<line x1="240.5" y1="928.5" x2="350.6" y2="928.5" stroke="#5a5a5a" stroke-width="1.2" />
<circle cx="148.3" cy="941.9" r="2.5" fill="#1e1e1e"/>
<polyline points="148.3,941.9 181.5,941.9 181.5,951.5" fill="none" stroke="#1e1e1e" stroke-width="1.2" />
<rect x="175.6" y="951.5" width="11.8" height="26.5" fill="#cedee6" stroke="#1e1e1e" stroke-width="1.1" />
<polyline points="181.5,978 181.5,988.4 148.3,988.4 148.3,979.5" fill="none" stroke="#1e1e1e" stroke-width="1.2" />
<path d="M190.6,965 L196.6,960 L196.6,970 Z" fill="#fff" stroke="#1e1e1e" stroke-width="1.1"/>
<line x1="196.6" y1="964.7" x2="350.6" y2="964.7" stroke="#5a5a5a" stroke-width="1.2" />
<line x1="148.3" y1="941.9" x2="148.3" y2="950.1" stroke="#1e1e1e" stroke-width="1.2" />
<line x1="140.6" y1="950.1" x2="156.6" y2="950.1" stroke="#1e1e1e" stroke-width="1.1" />
<line x1="143.5" y1="958.3" x2="152.6" y2="958.3" stroke="#1e1e1e" stroke-width="3.6" stroke-linecap="round"/>
<line x1="148.3" y1="958.3" x2="148.3" y2="971.4" stroke="#1e1e1e" stroke-width="1.2" />
<circle cx="148.3" cy="965" r="2.5" fill="#1e1e1e"/>
<line x1="140.6" y1="971.4" x2="156.6" y2="971.4" stroke="#1e1e1e" stroke-width="1.1" />
<line x1="143.5" y1="979.4" x2="152.6" y2="979.4" stroke="#1e1e1e" stroke-width="3.6" stroke-linecap="round"/>
<polyline points="148.3,965 168.2,965 168.2,1038" fill="none" stroke="#1e1e1e" stroke-width="1.2" />
<polyline points="168.2,1038 168.2,1119.8 203.4,1119.8" fill="none" stroke="#5a5a5a" stroke-width="1.3" />
<circle cx="168.2" cy="1016.4" r="2.5" fill="#1e1e1e"/>
<path d="M187.9,1010.2 L201.1,1017.6 L187.9,1025.3 Z" fill="#fff" stroke="#1e1e1e" stroke-width="1.1"/>
<line x1="181.9" y1="1016.4" x2="187.9" y2="1016.4" stroke="#1e1e1e" stroke-width="1.1" />
<polyline points="201.1,1017.6 206.6,1017.6 206.6,1001.7 350.6,1001.7" fill="none" stroke="#1e1e1e" stroke-width="1.2" />
<line x1="195.1" y1="1021.5" x2="195.1" y2="1038" stroke="#1e1e1e" stroke-width="1.3" />
<circle cx="195.1" cy="1038" r="2.5" fill="#1e1e1e"/>
<line x1="168.2" y1="1038" x2="350.6" y2="1038" stroke="#1e1e1e" stroke-width="1.2" />
<circle cx="168.6" cy="1082.6" r="2.6" fill="#1e1e1e"/>
<line x1="168.6" y1="1082.6" x2="203.4" y2="1082.6" stroke="#1e1e1e" stroke-width="1.2" />
<rect x="203.4" y="1066.5" width="65.5" height="32.1" fill="#1f1c1d" stroke="#1e1e1e" stroke-width="0" />
<ellipse cx="236.45000000000002" cy="1082.9" rx="28.6" ry="13.5" fill="#fff"/>
<path d="M211.70000000000002,1080.7 C218.4,1074.1 227.45000000000002,1071.2 236.45000000000002,1071.1 C245.45000000000002,1071.2 254.2,1074.1 260.9,1080.7" fill="none" stroke="#1e1e1e" stroke-width="0.85"/>
<path d="M211.70000000000002,1083.2 C218.4,1076.6 227.45000000000002,1073.7 236.45000000000002,1073.6 C245.45000000000002,1073.7 254.2,1076.6 260.9,1083.2" fill="none" stroke="#1e1e1e" stroke-width="0.85"/>
<line x1="236.45000000000002" y1="1078.5" x2="236.45000000000002" y2="1090.3" stroke="#1e1e1e" stroke-width="1" />
<path d="M236.45000000000002,1072.8 L233.35000000000002,1078.9 L239.55,1078.9 Z" fill="#fff" stroke="#1e1e1e" stroke-width="0.95"/>
<circle cx="236.45000000000002" cy="1091.8" r="1.5" fill="#fff" stroke="#1e1e1e" stroke-width="0.95"/>
<rect x="203.4" y="1103.3" width="65.5" height="32.1" fill="#1f1c1d" stroke="#1e1e1e" stroke-width="0" />
<ellipse cx="236.45000000000002" cy="1119.7" rx="28.6" ry="13.5" fill="#fff"/>
<path d="M211.70000000000002,1117.5 C218.4,1110.8999999999999 227.45000000000002,1108.0 236.45000000000002,1107.8999999999999 C245.45000000000002,1108.0 254.2,1110.8999999999999 260.9,1117.5" fill="none" stroke="#1e1e1e" stroke-width="0.85"/>
<path d="M211.70000000000002,1120.0 C218.4,1113.3999999999999 227.45000000000002,1110.5 236.45000000000002,1110.3999999999999 C245.45000000000002,1110.5 254.2,1113.3999999999999 260.9,1120.0" fill="none" stroke="#1e1e1e" stroke-width="0.85"/>
<line x1="236.45000000000002" y1="1115.3" x2="236.45000000000002" y2="1127.1" stroke="#1e1e1e" stroke-width="1" />
<path d="M236.45000000000002,1109.6 L233.35000000000002,1115.7 L239.55,1115.7 Z" fill="#fff" stroke="#1e1e1e" stroke-width="0.95"/>
<circle cx="236.45000000000002" cy="1128.6" r="1.5" fill="#fff" stroke="#1e1e1e" stroke-width="0.95"/>
<line x1="268.9" y1="1082.6" x2="350.6" y2="1082.6" stroke="#1e1e1e" stroke-width="1.2" />
<line x1="268.9" y1="1119.8" x2="350.6" y2="1119.8" stroke="#1e1e1e" stroke-width="1.2" />
<polyline points="346.7,1041.6 331.6,1131.8 324.2,1131.8 324.2,1122" fill="none" stroke="#1e1e1e" stroke-width="1.1" />
<text x="275.6" y="911.3" font-size="11" text-anchor="middle" >0~10 В</text>
<text x="274.8" y="924.4" font-size="11" text-anchor="middle" >пост<tspan font-weight='bold'>.</tspan> тока</text>
<text x="268.3" y="946.2" font-size="11" text-anchor="middle" ><tspan font-weight='bold'>-</tspan>10~10 В</text>
<text x="267.2" y="959.8" font-size="11" text-anchor="middle" >пост<tspan font-weight='bold'>.</tspan> тока</text>
<text x="265.1" y="984.5" font-size="11" text-anchor="middle" >4~20 мА</text>
<text x="264.3" y="996.9" font-size="11" text-anchor="middle" >пост<tspan font-weight='bold'>.</tspan> тока</text>
<text x="86.1" y="952.9" font-size="13" text-anchor="middle" >0~10 В пост. тока</text>
<text x="84.7" y="979.7" font-size="13" text-anchor="middle" >10~0 В пост. тока</text>
<text x="106" y="1017.1" font-size="13" text-anchor="middle" >Ввод установки</text>
<text x="91.1" y="1032" font-size="13" text-anchor="middle" >частоты (500 Вт~1 кОм)</text>
<text x="102.6" y="1081" font-size="13" text-anchor="middle" >Мониторинг</text>
<text x="100.2" y="1096" font-size="13" text-anchor="middle" >(Аналоговый выход)</text>
<text x="239.5" y="1049" font-size="11" text-anchor="middle" >0~10 В</text>
<text x="239.5" y="1062.7" font-size="11" text-anchor="middle" >пост. тока</text>
<text x="236.1" y="1146.5" font-size="11" text-anchor="middle" >4~20 мА</text>
<text x="236.1" y="1159.3" font-size="11" text-anchor="middle" >пост. тока</text>
<line x1="350.6" y1="892.6" x2="488.1" y2="892.6" stroke="#1e1e1e" stroke-width="1.2" />
<line x1="488.1" y1="892.6" x2="488.1" y2="959.6" stroke="#1e1e1e" stroke-width="1.2" />
<line x1="475.2" y1="959.6" x2="501.9" y2="959.6" stroke="#1e1e1e" stroke-width="1.2" />
<line x1="481.5" y1="970.7" x2="496" y2="970.7" stroke="#1e1e1e" stroke-width="4" stroke-linecap="round"/>
<line x1="488.1" y1="970.7" x2="488.1" y2="1038" stroke="#1e1e1e" stroke-width="1.2" />
<polyline points="350.6,928.5 451.1,928.5 451.1,938.5" fill="none" stroke="#1e1e1e" stroke-width="1.2" />
<rect x="445.55" y="938.5" width="11.1" height="16.700000000000045" fill="#cedee6" stroke="#1e1e1e" stroke-width="1.1" />
<line x1="451.1" y1="955.2" x2="451.1" y2="1038" stroke="#1e1e1e" stroke-width="1.2" />
<circle cx="451.1" cy="1038" r="2.5" fill="#1e1e1e"/>
<text x="452.2" y="935.6" font-size="10.8" text-anchor="start" >14.4kΩ</text>
<polyline points="350.6,964.7 419.6,964.7 419.6,973.7" fill="none" stroke="#1e1e1e" stroke-width="1.2" />
<rect x="414.05" y="973.7" width="11.1" height="17.799999999999955" fill="#cedee6" stroke="#1e1e1e" stroke-width="1.1" />
<line x1="419.6" y1="991.5" x2="419.6" y2="1038" stroke="#1e1e1e" stroke-width="1.2" />
<circle cx="419.6" cy="1038" r="2.5" fill="#1e1e1e"/>
<text x="422.2" y="971.9" font-size="10.8" text-anchor="start" >13kΩ</text>
<polyline points="350.6,1001.7 391.9,1001.7 391.9,1010" fill="none" stroke="#1e1e1e" stroke-width="1.2" />
<rect x="386.34999999999997" y="1010" width="11.1" height="18.5" fill="#cedee6" stroke="#1e1e1e" stroke-width="1.1" />
<line x1="391.9" y1="1028.5" x2="391.9" y2="1038" stroke="#1e1e1e" stroke-width="1.2" />
<circle cx="391.9" cy="1038" r="2.5" fill="#1e1e1e"/>
<text x="393" y="1008.9" font-size="10.8" text-anchor="start" >180Ω</text>
<line x1="350.6" y1="1038" x2="488.1" y2="1038" stroke="#1e1e1e" stroke-width="1.2" />
<text x="510.4" y="970" font-size="13" text-anchor="start" textLength="23.4" lengthAdjust="spacing">12 В</text>
<text x="521" y="984" font-size="13" text-anchor="middle" >пост. тока</text>
<polyline points="530.7,892.2 547.4,892.2 554,936.7 554,999.6 547.4,1036.7 530.7,1036.7" fill="none" stroke="#1e1e1e" stroke-width="3.4" />
<line x1="573" y1="944.8" x2="591.9" y2="944.8" stroke="#1e1e1e" stroke-width="1.2" />
<path d="M563,944.8 L574,940.6 L574,949 Z" fill="#1e1e1e"/>
<text x="362.7" y="887.8000000000001" font-size="13.8" text-anchor="start" >H</text>
<text x="361.1" y="923.5" font-size="13.8" text-anchor="start" >O</text>
<text x="363.3" y="960.4000000000001" font-size="14.3" text-anchor="start" >O2</text>
<text x="361.4" y="996.6" font-size="13.8" text-anchor="start" >O</text>
<text x="365.6" y="1032.8" font-size="13.8" text-anchor="start" >L</text>
<rect x="373.2" y="986.3" width="1.9" height="10.3" fill="#1e1e1e"/>
<text x="360" y="1076.6" font-size="13.8" text-anchor="start" >AM</text>
<text x="360" y="1111.2" font-size="13.8" text-anchor="start" >AM</text>
<rect x="382.3" y="1101.5" width="2.5" height="9.7" fill="#1e1e1e"/>
<line x1="350.6" y1="1082.6" x2="403.5" y2="1082.6" stroke="#1e1e1e" stroke-width="1.2" />
<path d="M403.5,1082.6 L417.2,1074.6999999999998 L417.2,1089.8 Z" fill="#fff" stroke="#1e1e1e" stroke-width="1.1"/>
<line x1="417.2" y1="1081.1" x2="423.9" y2="1081.1" stroke="#1e1e1e" stroke-width="1.1" />
<line x1="410.2" y1="1086.1" x2="410.2" y2="1095.8" stroke="#1e1e1e" stroke-width="1.1" />
<line x1="404.7" y1="1095.8" x2="418.6" y2="1095.8" stroke="#1e1e1e" stroke-width="1.1" />
<line x1="407" y1="1095.8" x2="404" y2="1100.1" stroke="#1e1e1e" stroke-width="1" />
<line x1="411.5" y1="1095.8" x2="408.5" y2="1100.1" stroke="#1e1e1e" stroke-width="1" />
<line x1="416" y1="1095.8" x2="413" y2="1100.1" stroke="#1e1e1e" stroke-width="1" />
<line x1="350.6" y1="1119.8" x2="403.5" y2="1119.8" stroke="#1e1e1e" stroke-width="1.2" />
<path d="M403.5,1119.8 L417.2,1111.8999999999999 L417.2,1127.0 Z" fill="#fff" stroke="#1e1e1e" stroke-width="1.1"/>
<line x1="417.2" y1="1118.3" x2="423.9" y2="1118.3" stroke="#1e1e1e" stroke-width="1.1" />
<line x1="410.2" y1="1123.3" x2="410.2" y2="1133.0" stroke="#1e1e1e" stroke-width="1.1" />
<line x1="404.7" y1="1133.0" x2="418.6" y2="1133.0" stroke="#1e1e1e" stroke-width="1.1" />
<line x1="407" y1="1133.0" x2="404" y2="1137.3" stroke="#1e1e1e" stroke-width="1" />
<line x1="411.5" y1="1133.0" x2="408.5" y2="1137.3" stroke="#1e1e1e" stroke-width="1" />
<line x1="416" y1="1133.0" x2="413" y2="1137.3" stroke="#1e1e1e" stroke-width="1" />
<text x="528.1" y="1145" font-size="13" text-anchor="middle" >G</text>
<line x1="528.1" y1="1161" x2="528.1" y2="1173.8" stroke="#1e1e1e" stroke-width="1.1" />
<line x1="519.2" y1="1173.8" x2="537.7" y2="1173.8" stroke="#1e1e1e" stroke-width="1.1" />
<line x1="522.5" y1="1178.6" x2="533.7" y2="1178.6" stroke="#1e1e1e" stroke-width="1.1" />
<line x1="525.6" y1="1183.4" x2="530.6" y2="1183.4" stroke="#1e1e1e" stroke-width="1.1" />
<text x="401.1" y="1177.4" font-size="18.5" text-anchor="start" >Заземление</text>
<text x="553.8" y="1177.6" font-size="18.5" text-anchor="start" >(200 В: Тип В, 400 В: Тип С)</text>
<circle cx="649.5" cy="400.3" r="4.7" fill="#fff" stroke="#1e1e1e" stroke-width="1.5"/>
<line x1="654.3" y1="400.3" x2="706.5" y2="400.3" stroke="#5a5a5a" stroke-width="1.3" />
<circle cx="649.5" cy="437.0" r="4.7" fill="#fff" stroke="#1e1e1e" stroke-width="1.5"/>
<line x1="654.3" y1="437.0" x2="706.5" y2="437.0" stroke="#5a5a5a" stroke-width="1.3" />
<circle cx="623.3" cy="419.3" r="4.7" fill="#fff" stroke="#1e1e1e" stroke-width="1.5"/>
<line x1="629.5" y1="420.2" x2="656.7" y2="434.8" stroke="#1e1e1e" stroke-width="1.3" />
<polyline points="618.5,419.3 599.4,419.3 599.4,472.8" fill="none" stroke="#1e1e1e" stroke-width="1.3" />
<line x1="599.4" y1="472.8" x2="706.5" y2="472.8" stroke="#5a5a5a" stroke-width="1.3" />
<text x="673.6" y="396.0" font-size="14" text-anchor="start" >A</text>
<rect x="683.9" y="386.2" width="1.9" height="9.9" fill="#1e1e1e"/>
<text x="686.3" y="396.0" font-size="14" text-anchor="start" >1</text>
<text x="673.6" y="432.2" font-size="14" text-anchor="start" >A</text>
<rect x="683.9" y="422.4" width="1.9" height="9.9" fill="#1e1e1e"/>
<text x="686.3" y="432.2" font-size="14" text-anchor="start" >2</text>
<text x="700.4" y="468.3" font-size="14" text-anchor="end" >AC0</text>
<circle cx="649.5" cy="509.4" r="4.7" fill="#fff" stroke="#1e1e1e" stroke-width="1.5"/>
<line x1="654.3" y1="509.4" x2="706.5" y2="509.4" stroke="#5a5a5a" stroke-width="1.3" />
<circle cx="649.5" cy="546.5" r="4.7" fill="#fff" stroke="#1e1e1e" stroke-width="1.5"/>
<line x1="654.3" y1="546.5" x2="706.5" y2="546.5" stroke="#5a5a5a" stroke-width="1.3" />
<circle cx="623.3" cy="528.4" r="4.7" fill="#fff" stroke="#1e1e1e" stroke-width="1.5"/>
<line x1="629.5" y1="529.3" x2="656.7" y2="543.9" stroke="#1e1e1e" stroke-width="1.3" />
<polyline points="618.5,528.4 599.4,528.4 599.4,581.8" fill="none" stroke="#1e1e1e" stroke-width="1.3" />
<line x1="599.4" y1="581.8" x2="706.5" y2="581.8" stroke="#5a5a5a" stroke-width="1.3" />
<text x="700.4" y="504.9" font-size="14" text-anchor="end" >RN1</text>
<text x="700.4" y="541.5" font-size="14" text-anchor="end" >RN2</text>
<text x="700.4" y="577.3" font-size="14" text-anchor="end" >RN0</text>
<text x="793.3" y="403.1" font-size="13" text-anchor="middle" >Программируемый</text>
<text x="793.3" y="417.8" font-size="13" text-anchor="middle" >релейный выход</text>
<text x="789.7" y="432.7" font-size="13" text-anchor="middle" >(Аварийный сигнал</text>
<text x="789.2" y="447.4" font-size="13" text-anchor="middle" >начальной установки)</text>
<text x="793.3" y="533.8" font-size="13" text-anchor="middle" >Программируемый</text>
<text x="793.3" y="548.5" font-size="13" text-anchor="middle" >релейный выход</text>
<text x="793.3" y="563.4" font-size="13" text-anchor="middle" >(Начальная установка)</text>
<line x1="706.5" y1="662.7" x2="594.7" y2="662.7" stroke="#5a5a5a" stroke-width="1.2" />
<polyline points="594.7,662.7 594.7,668.6 587.6,674.4000000000001" fill="none" stroke="#1e1e1e" stroke-width="1.2" />
<line x1="587.6" y1="668.1" x2="587.6" y2="683.8000000000001" stroke="#5a5a5a" stroke-width="1.4" />
<polyline points="587.6,678.0 594.7,683.7" fill="none" stroke="#1e1e1e" stroke-width="1.2" />
<path d="M595.3000000000001,684.3000000000001 L590.9000000000001,682.3000000000001 L593.2,679.7 Z" fill="#1e1e1e"/>
<polyline points="594.7,683.7 594.7,688.2 608.6,688.2" fill="none" stroke="#1e1e1e" stroke-width="1.2" />
<line x1="608.6" y1="680.1" x2="608.6" y2="695.8000000000001" stroke="#5a5a5a" stroke-width="1.4" />
<polyline points="615.8000000000001,662.7 615.8000000000001,680.1 608.6,686.3000000000001" fill="none" stroke="#1e1e1e" stroke-width="1.2" />
<polyline points="608.6,690.7 615.8000000000001,695.8000000000001" fill="none" stroke="#1e1e1e" stroke-width="1.2" />
<path d="M616.4000000000001,696.4000000000001 L612.0000000000001,694.4000000000001 L614.3000000000001,691.8000000000001 Z" fill="#1e1e1e"/>
<polyline points="615.8000000000001,695.8000000000001 615.8000000000001,700.8000000000001 646.8,700.8000000000001" fill="none" stroke="#1e1e1e" stroke-width="1.2" />
<path d="M578.4,669.4000000000001 l4.3,3.4 l-3.2,0.6 l4.6,4.4" fill="none" stroke="#1e1e1e" stroke-width="1.1" />
<path d="M585.0,679.1000000000001 l-3.4,-0.6 l2.2,-2.2 Z" fill="#1e1e1e"/>
<line x1="706.5" y1="708.4" x2="592.6" y2="708.4" stroke="#1e1e1e" stroke-width="1.2" />
<polyline points="592.6,708.4 592.6,714.3 585.5,720.1" fill="none" stroke="#1e1e1e" stroke-width="1.2" />
<line x1="585.5" y1="713.8" x2="585.5" y2="729.5" stroke="#5a5a5a" stroke-width="1.4" />
<polyline points="585.5,723.6999999999999 592.6,729.4" fill="none" stroke="#1e1e1e" stroke-width="1.2" />
<path d="M593.2,730.0 L588.8000000000001,728.0 L591.1,725.4 Z" fill="#1e1e1e"/>
<polyline points="592.6,729.4 592.6,733.9 606.5,733.9" fill="none" stroke="#1e1e1e" stroke-width="1.2" />
<line x1="606.5" y1="725.8" x2="606.5" y2="741.5" stroke="#5a5a5a" stroke-width="1.4" />
<polyline points="613.7,708.4 613.7,725.8 606.5,732.0" fill="none" stroke="#1e1e1e" stroke-width="1.2" />
<polyline points="606.5,736.4 613.7,741.5" fill="none" stroke="#1e1e1e" stroke-width="1.2" />
<path d="M614.3000000000001,742.1 L609.9000000000001,740.1 L612.2,737.5 Z" fill="#1e1e1e"/>
<polyline points="613.7,741.5 613.7,746.5 646.8,746.5" fill="none" stroke="#1e1e1e" stroke-width="1.2" />
<path d="M576.3,715.1 l4.3,3.4 l-3.2,0.6 l4.6,4.4" fill="none" stroke="#1e1e1e" stroke-width="1.1" />
<path d="M582.9,724.8000000000001 l-3.4,-0.6 l2.2,-2.2 Z" fill="#1e1e1e"/>
<line x1="706.5" y1="753.6" x2="592.6" y2="753.6" stroke="#1e1e1e" stroke-width="1.2" />
<polyline points="592.6,753.6 592.6,759.5 585.5,765.3000000000001" fill="none" stroke="#1e1e1e" stroke-width="1.2" />
<line x1="585.5" y1="759.0" x2="585.5" y2="774.7" stroke="#5a5a5a" stroke-width="1.4" />
<polyline points="585.5,768.9 592.6,774.6" fill="none" stroke="#1e1e1e" stroke-width="1.2" />
<path d="M593.2,775.2 L588.8000000000001,773.2 L591.1,770.6 Z" fill="#1e1e1e"/>
<polyline points="592.6,774.6 592.6,779.1 606.5,779.1" fill="none" stroke="#1e1e1e" stroke-width="1.2" />
<line x1="606.5" y1="771.0" x2="606.5" y2="786.7" stroke="#5a5a5a" stroke-width="1.4" />
<polyline points="613.7,753.6 613.7,771.0 606.5,777.2" fill="none" stroke="#1e1e1e" stroke-width="1.2" />
<polyline points="606.5,781.6 613.7,786.7" fill="none" stroke="#1e1e1e" stroke-width="1.2" />
<path d="M614.3000000000001,787.3000000000001 L609.9000000000001,785.3000000000001 L612.2,782.7 Z" fill="#1e1e1e"/>
<polyline points="613.7,786.7 613.7,791.7 646.8,791.7" fill="none" stroke="#1e1e1e" stroke-width="1.2" />
<path d="M576.3,760.3000000000001 l4.3,3.4 l-3.2,0.6 l4.6,4.4" fill="none" stroke="#1e1e1e" stroke-width="1.1" />
<path d="M582.9,770.0000000000001 l-3.4,-0.6 l2.2,-2.2 Z" fill="#1e1e1e"/>
<line x1="706.5" y1="798.9" x2="592.6" y2="798.9" stroke="#1e1e1e" stroke-width="1.2" />
<polyline points="592.6,798.9 592.6,804.8 585.5,810.6" fill="none" stroke="#1e1e1e" stroke-width="1.2" />
<line x1="585.5" y1="804.3" x2="585.5" y2="820.0" stroke="#5a5a5a" stroke-width="1.4" />
<polyline points="585.5,814.1999999999999 592.6,819.9" fill="none" stroke="#1e1e1e" stroke-width="1.2" />
<path d="M593.2,820.5 L588.8000000000001,818.5 L591.1,815.9 Z" fill="#1e1e1e"/>
<polyline points="592.6,819.9 592.6,824.4 606.5,824.4" fill="none" stroke="#1e1e1e" stroke-width="1.2" />
<line x1="606.5" y1="816.3" x2="606.5" y2="832.0" stroke="#5a5a5a" stroke-width="1.4" />
<polyline points="613.7,798.9 613.7,816.3 606.5,822.5" fill="none" stroke="#1e1e1e" stroke-width="1.2" />
<polyline points="606.5,826.9 613.7,832.0" fill="none" stroke="#1e1e1e" stroke-width="1.2" />
<path d="M614.3000000000001,832.6 L609.9000000000001,830.6 L612.2,828.0 Z" fill="#1e1e1e"/>
<polyline points="613.7,832.0 613.7,837.0 646.8,837.0" fill="none" stroke="#1e1e1e" stroke-width="1.2" />
<path d="M576.3,805.6 l4.3,3.4 l-3.2,0.6 l4.6,4.4" fill="none" stroke="#1e1e1e" stroke-width="1.1" />
<path d="M582.9,815.3000000000001 l-3.4,-0.6 l2.2,-2.2 Z" fill="#1e1e1e"/>
<line x1="646.4" y1="700.8000000000001" x2="646.4" y2="836.5" stroke="#1e1e1e" stroke-width="1.2" />
<circle cx="646.4" cy="746.5" r="2.5" fill="#1e1e1e"/>
<circle cx="646.4" cy="791.7" r="2.5" fill="#1e1e1e"/>
<circle cx="646.4" cy="837.0" r="2.5" fill="#1e1e1e"/>
<circle cx="646.4" cy="836.5" r="2.5" fill="#1e1e1e"/>
<line x1="646.4" y1="836.5" x2="706.5" y2="836.5" stroke="#5a5a5a" stroke-width="1.2" />
<text x="685.5" y="653.3" font-size="13.8" text-anchor="middle" >11</text>
<text x="685.5" y="701.1" font-size="13.8" text-anchor="middle" >12</text>
<text x="685.5" y="747.8" font-size="13.8" text-anchor="middle" >13</text>
<text x="685.5" y="791.9" font-size="13.8" text-anchor="middle" >14</text>
<text x="700.5" y="831.7" font-size="13.8" text-anchor="end" >CM2</text>
<text x="801.3" y="681.1" font-size="13" text-anchor="middle" >Программируемый выход 11</text>
<text x="800.7" y="694.8000000000001" font-size="13" text-anchor="middle" >(ОТКРЫТЫЙ КОЛЛЕКТОР)</text>
<text x="801.3" y="726.8" font-size="13" text-anchor="middle" >Программируемый выход 12</text>
<text x="800.7" y="740.5" font-size="13" text-anchor="middle" >(ОТКРЫТЫЙ КОЛЛЕКТОР)</text>
<text x="801.3" y="772.0" font-size="13" text-anchor="middle" >Программируемый выход 13</text>
<text x="800.7" y="785.7" font-size="13" text-anchor="middle" >(ОТКРЫТЫЙ КОЛЛЕКТОР)</text>
<text x="801.3" y="817.3" font-size="13" text-anchor="middle" >Программируемый выход 14</text>
<text x="800.7" y="831.0" font-size="13" text-anchor="middle" >(ОТКРЫТЫЙ КОЛЛЕКТОР)</text>
<rect x="694" y="859.3" width="20.2" height="74.5" fill="#fff" stroke="#1e1e1e" stroke-width="2" />
<rect x="694" y="957.4" width="20.2" height="74.60000000000002" fill="#fff" stroke="#1e1e1e" stroke-width="2" />
<rect x="694" y="1041.6" width="20.2" height="88.5" fill="#fff" stroke="#1e1e1e" stroke-width="2" />
<line x1="694" y1="1085.3" x2="714.2" y2="1085.3" stroke="#1e1e1e" stroke-width="2" />
<text x="731.8" y="898.4" font-size="13" text-anchor="start" >Опция 1</text>
<text x="733" y="998.2" font-size="13" text-anchor="start" >Опция 2</text>
<text x="725.7" y="1064.7" font-size="13" text-anchor="start" >Связь RS-485</text>
<text x="725.7" y="1109.4" font-size="13" text-anchor="start" >Связь RS-232</text>
<circle cx="350.6" cy="74.5" r="5.1" fill="#fff" stroke="#1e1e1e" stroke-width="1.35"/>
<circle cx="706.5" cy="74.5" r="5.1" fill="#fff" stroke="#1e1e1e" stroke-width="1.35"/>
<circle cx="350.6" cy="110.8" r="5.1" fill="#fff" stroke="#1e1e1e" stroke-width="1.35"/>
<circle cx="706.5" cy="110.8" r="5.1" fill="#fff" stroke="#1e1e1e" stroke-width="1.35"/>
<circle cx="350.6" cy="147.2" r="5.1" fill="#fff" stroke="#1e1e1e" stroke-width="1.35"/>
<circle cx="706.5" cy="147.2" r="5.1" fill="#fff" stroke="#1e1e1e" stroke-width="1.35"/>
<circle cx="706.5" cy="175" r="5.1" fill="#fff" stroke="#1e1e1e" stroke-width="1.35"/>
<circle cx="706.5" cy="200.1" r="5.1" fill="#fff" stroke="#1e1e1e" stroke-width="1.35"/>
<circle cx="706.5" cy="229" r="5.1" fill="#fff" stroke="#1e1e1e" stroke-width="1.35"/>
<circle cx="706.5" cy="253" r="5.1" fill="#fff" stroke="#1e1e1e" stroke-width="1.35"/>
<circle cx="350.6" cy="369" r="5.0" fill="#fff" stroke="#1e1e1e" stroke-width="1.35"/>
<circle cx="350.6" cy="402.6" r="5.0" fill="#fff" stroke="#1e1e1e" stroke-width="1.35"/>
<circle cx="350.6" cy="436.3" r="5.0" fill="#fff" stroke="#1e1e1e" stroke-width="1.35"/>
<circle cx="350.6" cy="472.5" r="5.0" fill="#fff" stroke="#1e1e1e" stroke-width="1.35"/>
<circle cx="350.6" cy="509.4" r="5.0" fill="#fff" stroke="#1e1e1e" stroke-width="1.35"/>
<circle cx="350.6" cy="545.9" r="5.0" fill="#fff" stroke="#1e1e1e" stroke-width="1.35"/>
<circle cx="350.6" cy="581.8" r="5.0" fill="#fff" stroke="#1e1e1e" stroke-width="1.35"/>
<circle cx="350.6" cy="618" r="5.0" fill="#fff" stroke="#1e1e1e" stroke-width="1.35"/>
<circle cx="350.6" cy="654.3" r="5.0" fill="#fff" stroke="#1e1e1e" stroke-width="1.35"/>
<circle cx="350.6" cy="690.2" r="5.0" fill="#fff" stroke="#1e1e1e" stroke-width="1.35"/>
<circle cx="350.6" cy="729.6" r="5.0" fill="#fff" stroke="#1e1e1e" stroke-width="1.35"/>
<circle cx="350.6" cy="766.5" r="5.0" fill="#fff" stroke="#1e1e1e" stroke-width="1.35"/>
<circle cx="350.6" cy="792.7" r="5.0" fill="#fff" stroke="#1e1e1e" stroke-width="1.35"/>
<circle cx="350.6" cy="831.2" r="5.0" fill="#fff" stroke="#1e1e1e" stroke-width="1.35"/>
<circle cx="350.6" cy="863.3" r="5.0" fill="#fff" stroke="#1e1e1e" stroke-width="1.35"/>
<circle cx="350.6" cy="892.6" r="5.0" fill="#fff" stroke="#1e1e1e" stroke-width="1.35"/>
<circle cx="350.6" cy="928.5" r="5.0" fill="#fff" stroke="#1e1e1e" stroke-width="1.35"/>
<circle cx="350.6" cy="964.7" r="5.0" fill="#fff" stroke="#1e1e1e" stroke-width="1.35"/>
<circle cx="350.6" cy="1001.7" r="5.0" fill="#fff" stroke="#1e1e1e" stroke-width="1.35"/>
<circle cx="350.6" cy="1038" r="5.0" fill="#fff" stroke="#1e1e1e" stroke-width="1.35"/>
<circle cx="350.6" cy="1082.6" r="5.0" fill="#fff" stroke="#1e1e1e" stroke-width="1.35"/>
<circle cx="350.6" cy="1119.8" r="5.0" fill="#fff" stroke="#1e1e1e" stroke-width="1.35"/>
<circle cx="528.1" cy="1155.9" r="5.0" fill="#fff" stroke="#1e1e1e" stroke-width="1.35"/>
<circle cx="706.5" cy="400.3" r="5.0" fill="#fff" stroke="#1e1e1e" stroke-width="1.35"/>
<circle cx="706.5" cy="436.5" r="5.0" fill="#fff" stroke="#1e1e1e" stroke-width="1.35"/>
<circle cx="706.5" cy="472.8" r="5.0" fill="#fff" stroke="#1e1e1e" stroke-width="1.35"/>
<circle cx="706.5" cy="509.4" r="5.0" fill="#fff" stroke="#1e1e1e" stroke-width="1.35"/>
<circle cx="706.5" cy="546" r="5.0" fill="#fff" stroke="#1e1e1e" stroke-width="1.35"/>
<circle cx="706.5" cy="581.8" r="5.0" fill="#fff" stroke="#1e1e1e" stroke-width="1.35"/>
<circle cx="706.5" cy="662.7" r="5.0" fill="#fff" stroke="#1e1e1e" stroke-width="1.35"/>
<circle cx="706.5" cy="708.4" r="5.0" fill="#fff" stroke="#1e1e1e" stroke-width="1.35"/>
<circle cx="706.5" cy="753.6" r="5.0" fill="#fff" stroke="#1e1e1e" stroke-width="1.35"/>
<circle cx="706.5" cy="798.9" r="5.0" fill="#1e1e1e" stroke="#1e1e1e" stroke-width="1.35"/>
<circle cx="706.5" cy="836.5" r="5.0" fill="#fff" stroke="#1e1e1e" stroke-width="1.35"/></svg></body></html>
